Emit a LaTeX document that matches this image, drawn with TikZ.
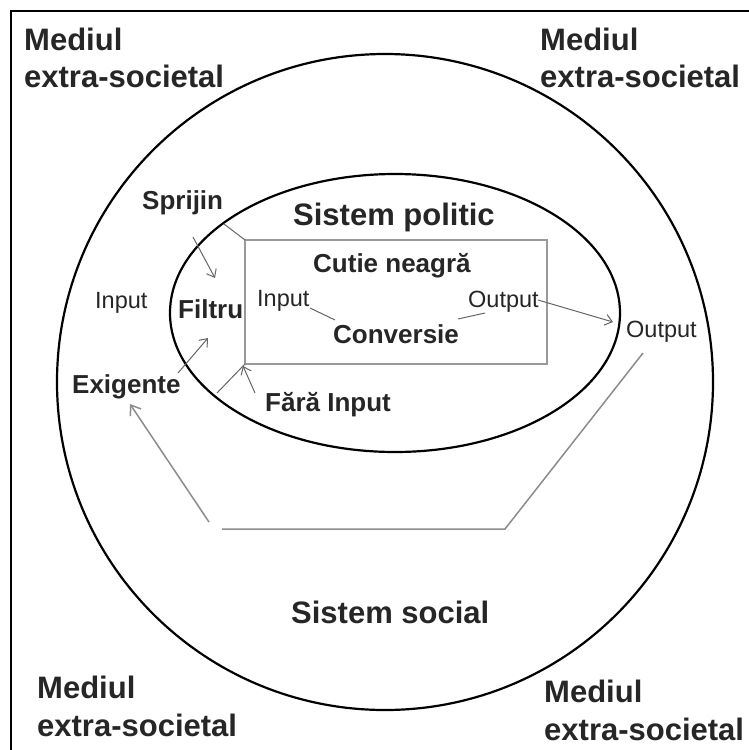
\documentclass[tikz,border=0pt]{standalone}
\usepackage{fontspec}
\setmainfont{Liberation Sans}
\usetikzlibrary{arrows.meta}
\begin{document}
\begin{tikzpicture}[x=1pt,y=-1pt,
  big/.style={font=\fontsize{31}{37}\selectfont\bfseries, inner sep=0, anchor=base west, text=black!85},
  mid/.style={font=\fontsize{26}{30}\selectfont\bfseries, inner sep=0, anchor=base west, text=black!85},
  small/.style={font=\fontsize{23.5}{28}\selectfont, inner sep=0, anchor=base west, text=black!85},
  ring/.style={draw=black, line width=2.2pt},
  thinline/.style={draw=black!60, line width=1pt},
  arr/.style={thinline, -{Straight Barb[length=7pt,width=11pt]}},
  loopline/.style={draw=black!45, line width=1.5pt}]
\useasboundingbox (0,0) rectangle (749,750);
\fill[white] (0,0) rectangle (749,750);
\draw[line width=2pt] (11,750) -- (11,11) -- (749,11);
% circle and ellipse
\draw[ring] (385,382) circle [radius=328];
\draw[ring] (395,313) ellipse [x radius=225, y radius=139];
% black box
\node[draw=black!40, line width=1.3pt, minimum width=302pt, minimum height=124pt, inner sep=0, outer sep=0] (box) at (396,302) {};
% corner labels
\node[big] (tl1) at (24,50) {Mediul};
\node[big] (tl2) at (24,87) {extra-societal};
\node[big] (tr1) at (540,50) {Mediul};
\node[big] (tr2) at (540,87) {extra-societal};
\node[big] (bl1) at (37,698) {Mediul};
\node[big] (bl2) at (37,736) {extra-societal};
\node[big] (br1) at (544,702) {Mediul};
\node[big] (br2) at (544,740) {extra-societal};
% main labels
\node[big] (politic) at (293,225) {Sistem politic};
\node[big] (social) at (291,623) {Sistem social};
\node[mid] (cutie) at (313,272) {Cutie neagră};
\node[mid] (conv) at (333,343) {Conversie};
\node[mid] (filtru) at (178,318) {Filtru};
\node[mid] (sprijin) at (142,209) {Sprijin};
\node[mid] (exig) at (72,393) {Exigente};
\node[mid] (fara) at (265,411) {Fără Input};
\node[small] (inL) at (95,308) {Input};
\node[small] (inR) at (257,306) {Input};
\node[small] (outI) at (468,307) {Output};
\node[small] (outO) at (626,337) {Output};
% connector end points
\coordinate (sprA) at (193,237);
\coordinate (sprB) at (215,278);
\coordinate (exA) at (178,373);
\coordinate (exB) at (208,338);
\coordinate (faA) at (255,393);
\coordinate (faB) at (243,366);
\coordinate (elTL) at (224,224);
\coordinate (elBL) at (217,393);
\coordinate (inRe) at (310,308);
\coordinate (convW) at (335,320);
\coordinate (convE) at (458,319);
\coordinate (outIw) at (485,313);
\coordinate (outIe) at (538,300);
\coordinate (outOw) at (613,322);
\coordinate (fbA) at (643,353);
\coordinate (fbB) at (505,529);
\coordinate (fbC) at (222,529);
\coordinate (fbD) at (209,522);
\coordinate (fbE) at (130,404);
% connectors
\draw[arr] (sprA) -- (sprB);
\draw[arr] (exA) -- (exB);
\draw[arr] (faA) -- (faB);
\draw[thinline] (elTL) -- (box.north west);
\draw[thinline] (elBL) -- (box.south west);
\draw[thinline] (inRe) -- (convW);
\draw[thinline] (convE) -- (outIw);
\draw[arr] (outIe) -- (outOw);
\draw[loopline] (fbA) -- (fbB) -- (fbC);
\draw[loopline, -{Straight Barb[length=9pt,width=13pt]}] (fbD) -- (fbE);
\end{tikzpicture}
\end{document}
